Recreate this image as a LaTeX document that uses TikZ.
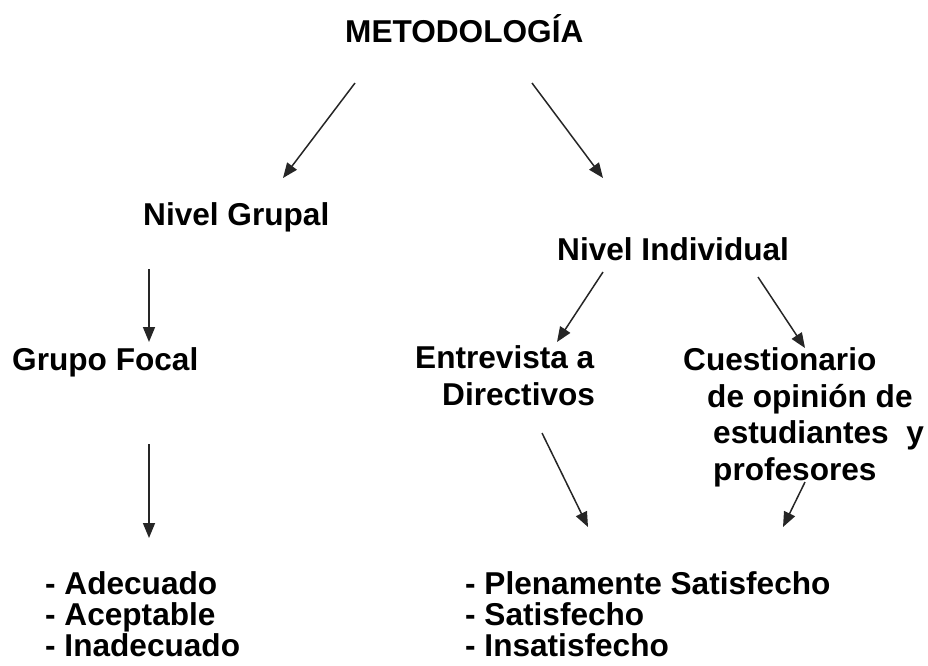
\documentclass[tikz,border=0pt]{standalone}
\usepackage{fontspec}
\setmainfont{Liberation Sans}
\usepackage{tikz}
\usetikzlibrary{positioning,arrows.meta}

\begin{document}
\begin{tikzpicture}[
    x=1pt, y=-1pt,
    lbl/.style={inner sep=0pt, anchor=base west, align=left, font=\fontsize{31.6}{36.5}\selectfont\bfseries},
    lista/.style={lbl, font=\fontsize{31.6}{31}\selectfont\bfseries},
    arr/.style={-{Triangle[length=15pt, width=12pt]}, line width=1.5pt, black!85},
]
\useasboundingbox (0,0) rectangle (928,665);

% multi-line nodes: base is the last line
\node[lbl] (meto) at (345,42) {METODOLOGÍA};
\node[lbl] (grupal) at (143,225) {Nivel Grupal};
\node[lbl] (indiv) at (557,260) {Nivel Individual};
\node[lbl] (focal) at (12,370) {Grupo Focal};
\node[lbl] (entrev) at (415,405) {Entrevista a\\\hspace*{27pt}Directivos};
\node[lbl] (cuest) at (683,480) {Cuestionario\\\hspace*{24pt}de opinión de\\\hspace*{30pt}estudiantes \ y\\\hspace*{30pt}profesores};
\node[lista] (escgrupo) at (45,656) {- Adecuado\\- Aceptable\\- Inadecuado};
\node[lista] (escindiv) at (465,656) {- Plenamente Satisfecho\\- Satisfecho\\- Insatisfecho};

% arrow ends
\coordinate (m1) at (355,83);  \coordinate (g1) at (283,178);
\coordinate (m2) at (532,83);  \coordinate (i1) at (603,178);
\coordinate (g2) at (149,269); \coordinate (f1) at (149,342);
\coordinate (f2) at (149,444); \coordinate (l1) at (149,538);
\coordinate (i2) at (603,272); \coordinate (e1) at (557,342);
\coordinate (i3) at (758,277); \coordinate (c1) at (805,348);
\coordinate (e2) at (542,433); \coordinate (l2) at (588,527);
\coordinate (c2) at (805,482); \coordinate (l3) at (783,527);

\draw[arr] (m1) -- (g1);
\draw[arr] (m2) -- (i1);
\draw[arr] (g2) -- (f1);
\draw[arr] (f2) -- (l1);
\draw[arr] (i2) -- (e1);
\draw[arr] (i3) -- (c1);
\draw[arr] (e2) -- (l2);
\draw[arr] (c2) -- (l3);
\end{tikzpicture}
\end{document}
